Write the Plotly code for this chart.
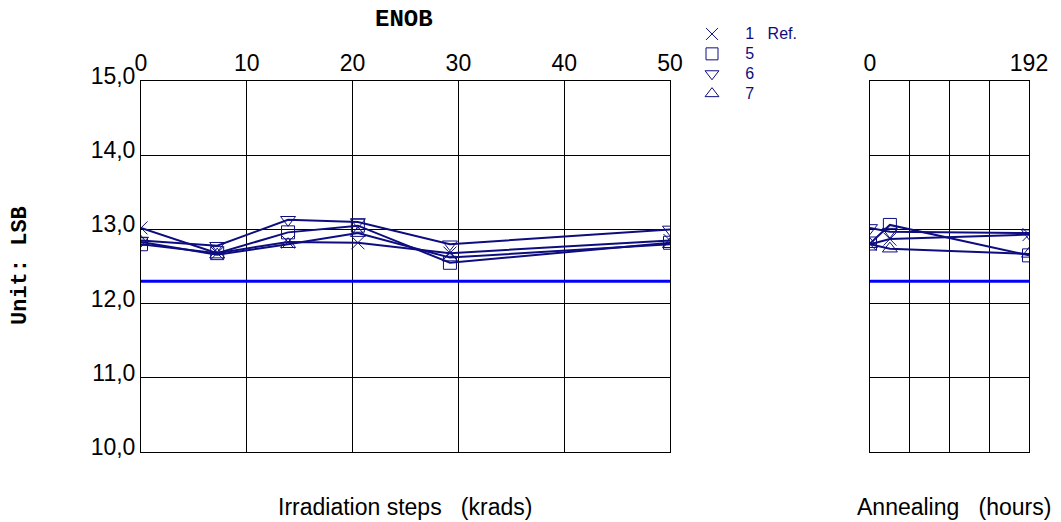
import plotly.graph_objects as go

# ---- data ----
irr_steps = [0, 7.2, 13.9, 20.5, 29.2, 50]          # krads
anneal_hours = [0, 24, 192]                           # hours
series_names = ["1\u00a0\u00a0\u00a0Ref.", "5", "6", "7"]
series_symbols = ["x-thin-open", "square-open", "triangle-down-open", "triangle-up-open"]
irr_values = [
    [13.02, 12.68, 12.83, 12.82, 12.68, 12.85],   # 1 Ref.
    [12.80, 12.68, 12.96, 13.05, 12.55, 12.82],   # 5
    [12.85, 12.78, 13.13, 13.10, 12.80, 13.00],   # 6
    [12.83, 12.66, 12.80, 12.95, 12.62, 12.80],   # 7
]
anneal_values = [
    [12.80, 12.87, 12.93],   # 1 Ref.
    [12.81, 13.06, 12.65],   # 5
    [13.02, 12.97, 12.95],   # 6
    [12.80, 12.74, 12.67],   # 7
]
limit_value = 12.3
y_ticks = [10, 11, 12, 13, 14, 15]
y_ticktext = ["10,0", "11,0", "12,0", "13,0", "14,0", "15,0"]
irr_ticks = [0, 10, 20, 30, 40, 50]
anneal_ticks = [0, 48, 96, 144, 192]
anneal_ticktext = ["0", "", "", "", "192"]

NAVY = "#0d0d80"
BLUE = "#0000ff"

fig = go.Figure()

for name, sym, yi, ya in zip(series_names, series_symbols, irr_values, anneal_values):
    mk = dict(symbol=sym, size=13, color=NAVY, line=dict(color=NAVY, width=1))
    fig.add_trace(go.Scatter(x=irr_steps, y=yi, mode="lines+markers", xaxis="x", yaxis="y",
                             line=dict(color=NAVY, width=2), marker=mk, showlegend=False))
    fig.add_trace(go.Scatter(x=anneal_hours, y=ya, mode="lines+markers", xaxis="x2", yaxis="y2",
                             line=dict(color=NAVY, width=2), marker=mk, showlegend=False))
    fig.add_trace(go.Scatter(x=[None], y=[None], mode="markers",
                             name='<span style="font-size:16px">\u00a0\u00a0\u00a0' + name + '</span>',
                             marker=dict(symbol=sym, size=12, color=NAVY, line=dict(color=NAVY, width=1))))

fig.add_trace(go.Scatter(x=[irr_steps[0], irr_steps[-1]], y=[limit_value, limit_value], mode="lines",
                         xaxis="x", yaxis="y", line=dict(color=BLUE, width=3), showlegend=False))
fig.add_trace(go.Scatter(x=[anneal_hours[0], anneal_hours[-1]], y=[limit_value, limit_value], mode="lines",
                         xaxis="x2", yaxis="y2", line=dict(color=BLUE, width=3), showlegend=False))

W, H = 1061, 522
L, R, T, B = 141, 32, 81, 70
pw = W - L - R
ph = H - T - B
def px(x):
    return (x - L) / pw
def py(y):
    return (H - B - y) / ph

tickfont = dict(family="Arial, Liberation Sans", size=23, color="black")
axis_common = dict(showline=True, linecolor="black", linewidth=1, mirror=True,
                   showgrid=True, gridcolor="black", gridwidth=1, zeroline=False, ticks="")

fig.update_layout(
    width=W, height=H,
    margin=dict(l=L, r=R, t=T, b=B),
    paper_bgcolor="white", plot_bgcolor="white",
    xaxis=dict(domain=[0, px(670)], range=[0, 50], side="top", tickvals=irr_ticks,
               tickfont=tickfont, anchor="y", **axis_common),
    xaxis2=dict(domain=[px(870), 1], range=[0, 192], side="top", tickvals=anneal_ticks,
                ticktext=anneal_ticktext, tickfont=tickfont, anchor="y2", **axis_common),
    yaxis=dict(range=[10, 15], tickvals=y_ticks, ticktext=y_ticktext, tickfont=tickfont,
               ticklabelshift=-5, anchor="x", **axis_common),
    yaxis2=dict(range=[10, 15], tickvals=y_ticks, showticklabels=False, anchor="x2",
                **axis_common),
    legend=dict(x=px(692), y=py(19), xanchor="left", yanchor="top", bgcolor="rgba(0,0,0,0)",
                font=dict(family="Arial, Liberation Sans", size=13, color=NAVY),
                tracegroupgap=0, itemclick=False),
    showlegend=True,
    annotations=[
        dict(text="<b>ENOB</b>", x=px(404), y=py(20), xref="paper", yref="paper",
             showarrow=False, xanchor="center", yanchor="middle",
             font=dict(family="Courier New, Liberation Mono", size=24, color="black")),
        dict(text="<b>Unit: LSB</b>", x=px(20), y=py(266), xref="paper", yref="paper",
             showarrow=False, textangle=-90, xanchor="center", yanchor="middle",
             font=dict(family="Courier New, Liberation Mono", size=22, color="black")),
        dict(text="Irradiation steps\u00a0\u00a0\u00a0(krads)", x=px(405), y=py(507), xref="paper",
             yref="paper", showarrow=False, xanchor="center", yanchor="middle",
             font=dict(family="Arial, Liberation Sans", size=23, color="black")),
        dict(text="Annealing\u00a0\u00a0\u00a0(hours)", x=px(954), y=py(507), xref="paper",
             yref="paper", showarrow=False, xanchor="center", yanchor="middle",
             font=dict(family="Arial, Liberation Sans", size=23, color="black")),
    ],
)

fig.write_html("out.html", config={"displayModeBar": False},
               post_script="document.body.style.margin='0';document.body.style.overflow='hidden';")
